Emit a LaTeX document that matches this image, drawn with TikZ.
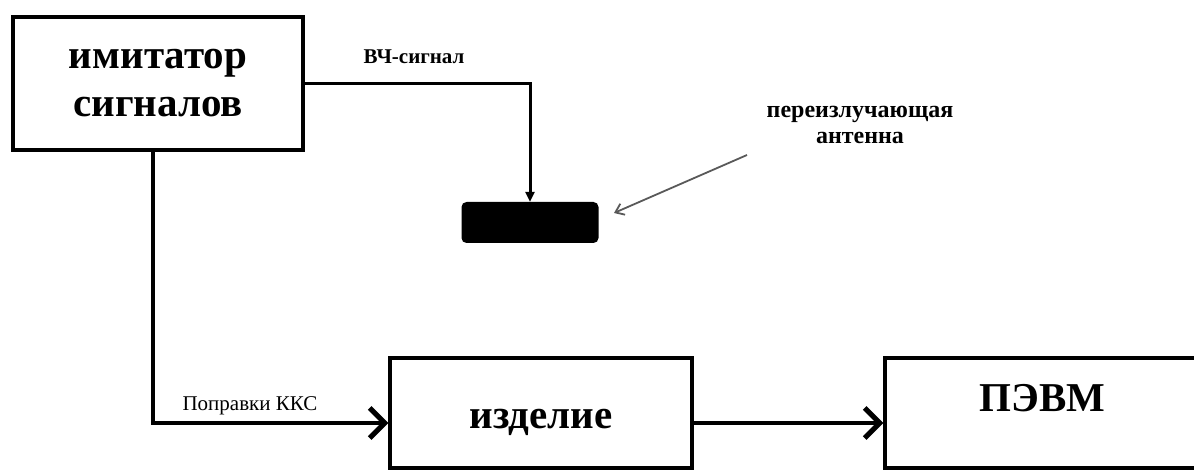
\documentclass[tikz,border=0pt]{standalone}
\usepackage{fontspec}
\setmainfont{Liberation Serif}
\usetikzlibrary{arrows.meta}

\begin{document}
\begin{tikzpicture}[x=1pt, y=-1pt,
    blok/.style={draw, line width=3.5pt, minimum width=#1, minimum height=110pt, inner sep=0pt},
    bigtxt/.style={font=\fontsize{41}{48}\selectfont\bfseries, align=center},
    smalltxt/.style={font=\fontsize{21}{24}\selectfont},
    conn/.style={line width=3.5pt, -{Straight Barb[length=15pt, width=30pt, line width=5pt]}}]
    \useasboundingbox (0,0) rectangle (1194,473);

    % blocks
    \node[blok=290pt, minimum height=133pt, bigtxt] (imit) at (158,83.5) {имитатор\\сигналов};
    \node[blok=302pt] (izd) at (541,413) {};
    \node[blok=315pt] (pevm) at (1042.5,413) {};
    \node[bigtxt] (izdtxt) at ([yshift=-9pt]izd.center) {изделие};
    \node[bigtxt] (pevmtxt) at ([yshift=15pt]pevm.center) {ПЭВМ};

    % antenna
    \node[fill=black, rounded corners=5pt, minimum width=137pt, minimum height=41pt, inner sep=0pt] (ant) at (530,222.5) {};
    \node[smalltxt, font=\fontsize{24}{26}\selectfont\bfseries, align=center] (antlbl) at (860,125) {переизлучающая\\антенна};
    \coordinate (pstart) at (747,155);
    \coordinate (pend) at (614,213);

    % connectors
    \draw[line width=3pt, -{Triangle[length=10pt, width=9pt]}] (imit.east) -| (ant.north);
    \node[smalltxt, font=\fontsize{21}{24}\selectfont\bfseries] (vch) at (414,57) {ВЧ-сигнал};

    \draw[conn] ([xshift=-5pt]imit.south) |- ([yshift=-10pt]izd.west);
    \node[smalltxt] (kks) at (250,406) {Поправки ККС};

    \draw[conn] ([yshift=-10pt]izd.east) -- ([yshift=-10pt]pevm.west);

    \draw[gray!70!black, line width=1.8pt, -{Straight Barb[length=8pt, width=12pt]}] (pstart) -- (pend);
\end{tikzpicture}
\end{document}
